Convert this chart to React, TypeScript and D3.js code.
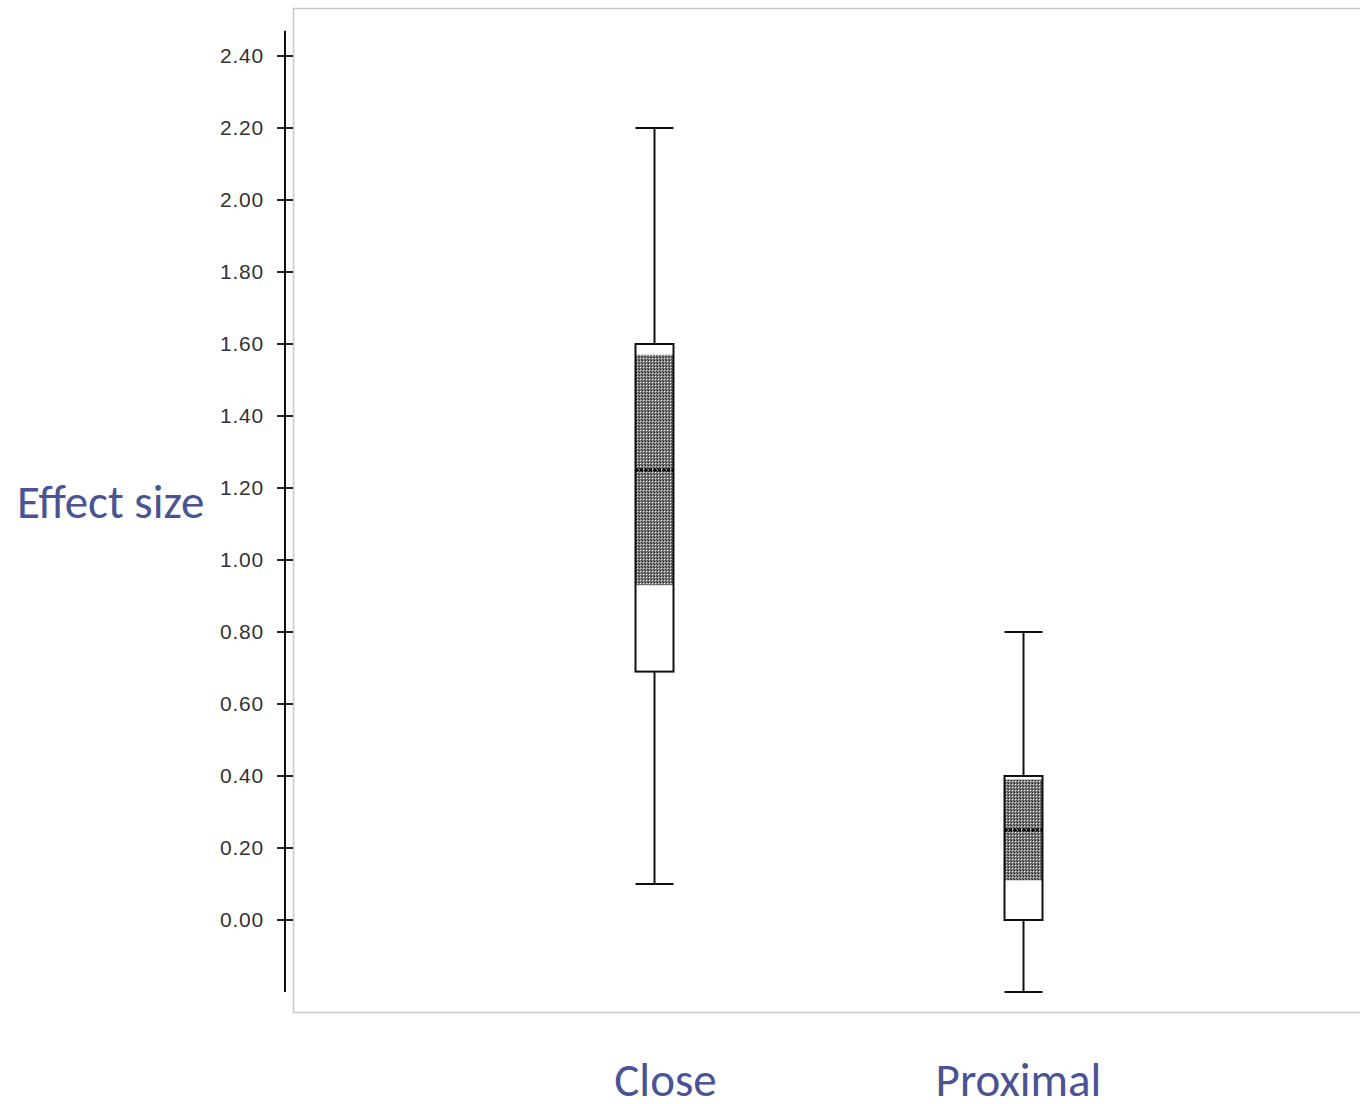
import React, { useEffect, useRef } from "react";
import * as d3 from "d3";

// box plot summaries
const groups = ["Close", "Proximal"];
const whiskerHigh = [2.2, 0.8];
const q3 = [1.6, 0.4];
const ciHigh = [1.57, 0.39];
const medians = [1.25, 0.25];
const ciLow = [0.93, 0.11];
const q1 = [0.69, 0.0];
const whiskerLow = [0.1, -0.2];
const yTicks = [0, 0.2, 0.4, 0.6, 0.8, 1.0, 1.2, 1.4, 1.6, 1.8, 2.0, 2.2, 2.4];

const W = 1360;
const H = 1104;
const labelColor = "#4a5494";
const labelFont = "Carlito, Lato, 'Open Sans', sans-serif";

export default function App() {
  const ref = useRef<SVGSVGElement>(null);

  useEffect(() => {
    const svg = d3.select(ref.current);
    svg.selectAll("*").remove();

    const y = d3.scaleLinear().domain([0, 2.4]).range([920, 56]);
    const x = d3.scalePoint<string>().domain(groups).range([654.5, 1023.5]);
    const boxW = 38;

    // checker pattern for the shaded notch area
    const defs = svg.append("defs");
    const pat = defs.append("pattern")
      .attr("id", "checker")
      .attr("width", 3)
      .attr("height", 3)
      .attr("patternUnits", "userSpaceOnUse");
    pat.append("rect").attr("width", 3).attr("height", 3).attr("fill", "#808080");
    pat.append("rect").attr("x", 0).attr("y", 0).attr("width", 1).attr("height", 1).attr("fill", "#1a1a1a");
    pat.append("rect").attr("x", 1).attr("y", 1).attr("width", 1).attr("height", 1).attr("fill", "#e8e8e8");
    pat.append("rect").attr("x", 2).attr("y", 2).attr("width", 1).attr("height", 1).attr("fill", "#444");

    // light frame of the plot area
    svg.append("rect")
      .attr("x", 293.5)
      .attr("y", 8.5)
      .attr("width", W)
      .attr("height", 1004)
      .attr("fill", "none")
      .attr("stroke", "#c8c8c8")
      .attr("stroke-width", 1.5);

    // y axis
    const axis = svg.append("g").attr("transform", "translate(285,0)");
    axis.append("line")
      .attr("x1", 0).attr("x2", 0)
      .attr("y1", y(2.47)).attr("y2", y(-0.2))
      .attr("stroke", "#111")
      .attr("stroke-width", 2);
    const tick = axis.selectAll(".tick")
      .data(yTicks)
      .enter().append("g")
      .attr("transform", d => `translate(0,${y(d)})`);
    tick.append("line")
      .attr("x1", -8).attr("x2", 8)
      .attr("stroke", "#111")
      .attr("stroke-width", 1.8);
    tick.append("text")
      .attr("x", -21)
      .attr("dy", "0.35em")
      .attr("text-anchor", "end")
      .attr("font-family", "Arial, 'Liberation Sans', sans-serif")
      .attr("font-size", 21)
      .attr("letter-spacing", 0.8)
      .attr("fill", "#333")
      .text(d => d.toFixed(2));

    // boxes
    groups.forEach((g, i) => {
      const cx = x(g) as number;
      const gb = svg.append("g");
      // whiskers
      gb.append("line")
        .attr("x1", cx).attr("x2", cx)
        .attr("y1", y(whiskerHigh[i])).attr("y2", y(q3[i]))
        .attr("stroke", "#111").attr("stroke-width", 2);
      gb.append("line")
        .attr("x1", cx).attr("x2", cx)
        .attr("y1", y(q1[i])).attr("y2", y(whiskerLow[i]))
        .attr("stroke", "#111").attr("stroke-width", 2);
      [whiskerHigh[i], whiskerLow[i]].forEach(v => {
        gb.append("line")
          .attr("x1", cx - boxW / 2).attr("x2", cx + boxW / 2)
          .attr("y1", y(v)).attr("y2", y(v))
          .attr("stroke", "#111").attr("stroke-width", 2);
      });
      // box
      gb.append("rect")
        .attr("x", cx - boxW / 2)
        .attr("y", y(q3[i]))
        .attr("width", boxW)
        .attr("height", y(q1[i]) - y(q3[i]))
        .attr("fill", "#fff");
      gb.append("rect")
        .attr("x", cx - boxW / 2)
        .attr("y", y(ciHigh[i]))
        .attr("width", boxW)
        .attr("height", y(ciLow[i]) - y(ciHigh[i]))
        .attr("fill", "url(#checker)");
      gb.append("rect")
        .attr("x", cx - boxW / 2)
        .attr("y", y(q3[i]))
        .attr("width", boxW)
        .attr("height", y(q1[i]) - y(q3[i]))
        .attr("fill", "none")
        .attr("stroke", "#111")
        .attr("stroke-width", 2);
      // median
      gb.append("line")
        .attr("x1", cx - boxW / 2).attr("x2", cx + boxW / 2)
        .attr("y1", y(medians[i])).attr("y2", y(medians[i]))
        .attr("stroke", "#000")
        .attr("stroke-width", 3)
        .attr("stroke-dasharray", "3,1.5");
    });

    // category labels
    svg.selectAll(".cat")
      .data(groups)
      .enter().append("text")
      .attr("x", (d, i) => (x(d) as number) + (i === 0 ? 11 : -5))
      .attr("y", 1096)
      .attr("text-anchor", "middle")
      .attr("font-family", labelFont)
      .attr("font-size", 47)
      .attr("fill", labelColor)
      .text(d => d);

    // y title
    svg.append("text")
      .attr("x", 17)
      .attr("y", 518)
      .attr("font-family", labelFont)
      .attr("font-size", 47)
      .attr("fill", labelColor)
      .text("Effect size");
  }, []);

  return (
    <svg
      ref={ref}
      width={W}
      height={H}
      style={{ display: "block", position: "absolute", left: 0, top: 0, background: "#fff" }}
    />
  );
}
